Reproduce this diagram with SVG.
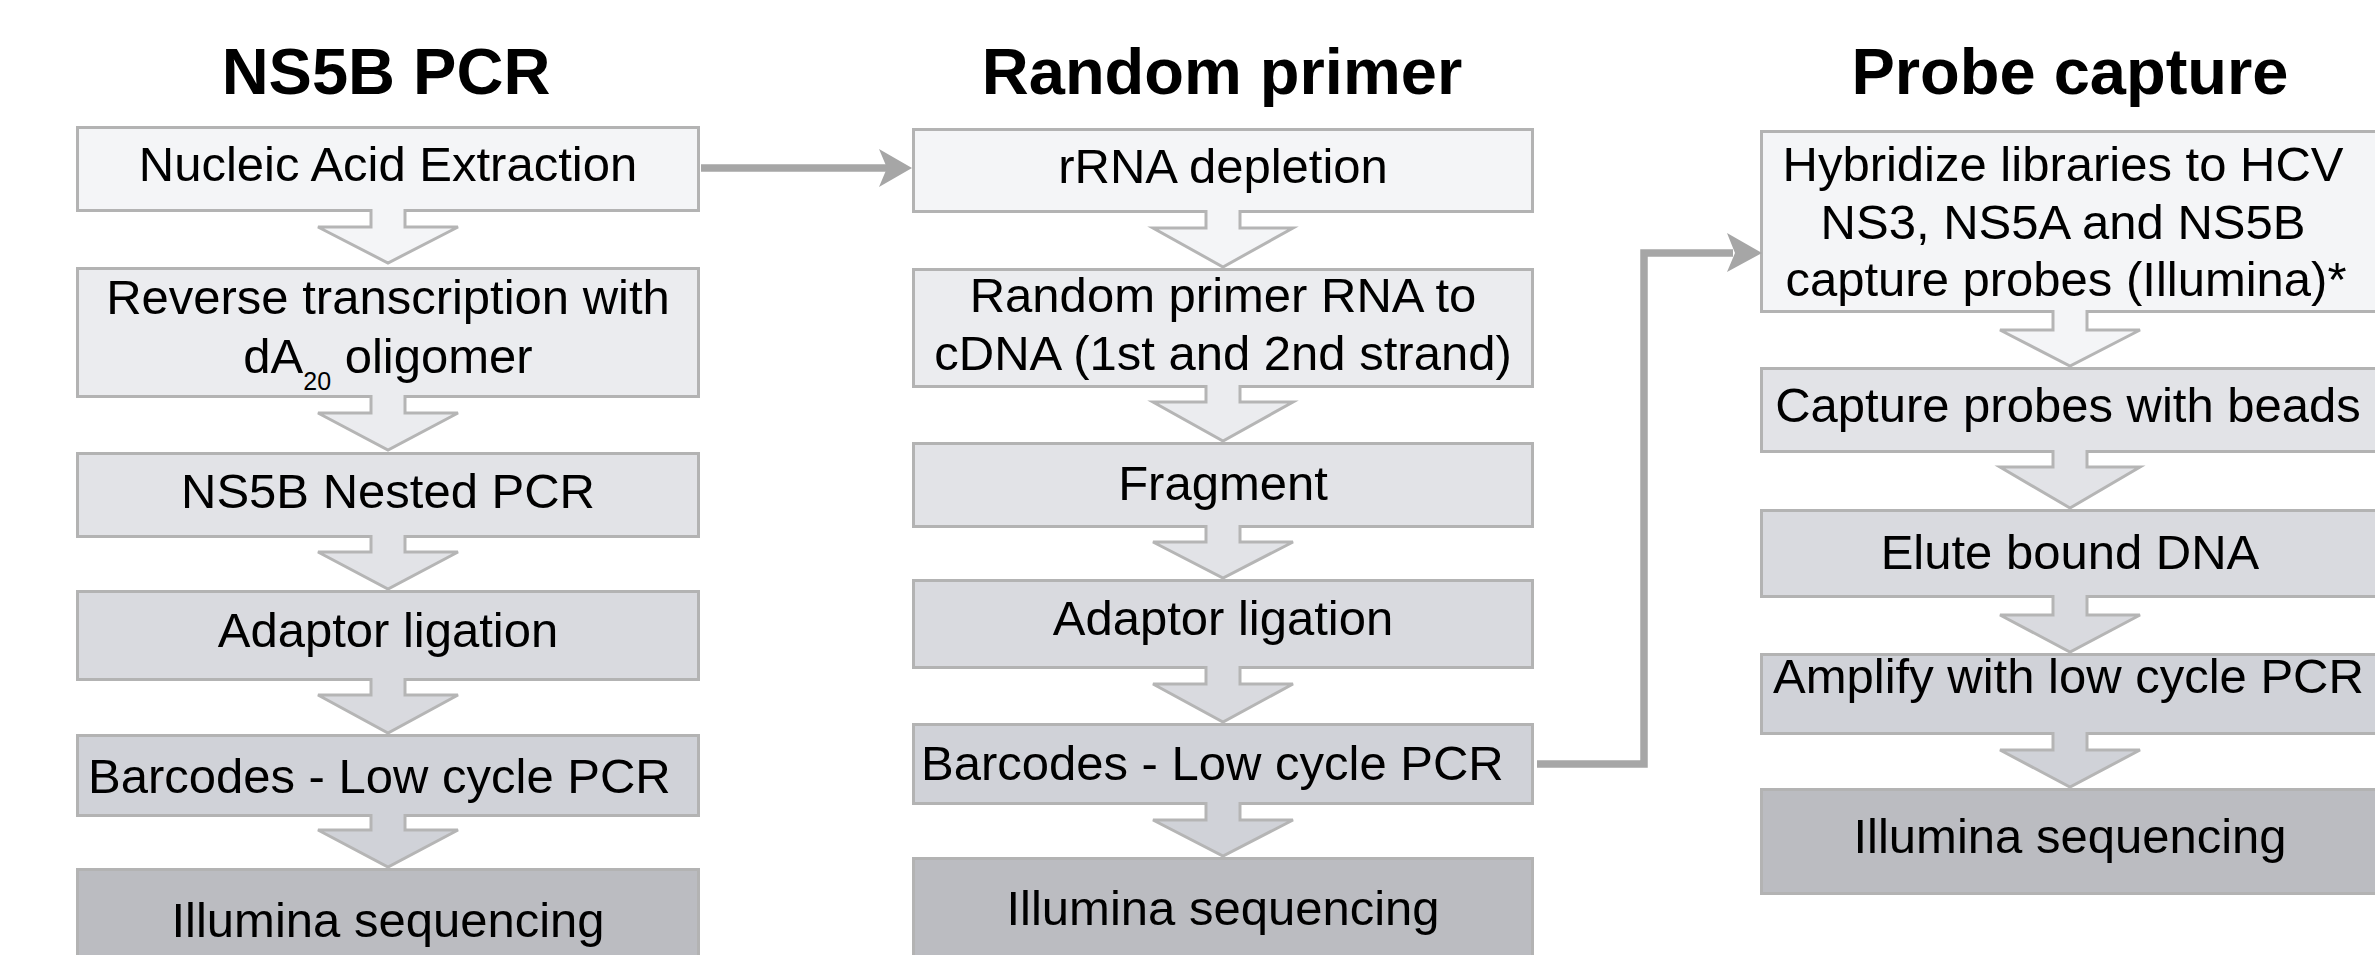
<svg xmlns="http://www.w3.org/2000/svg" width="2375" height="955" viewBox="0 0 2375 955">
<style>
.t{font-family:"Liberation Sans",Arial,Helvetica,sans-serif;font-size:49px;fill:#000;text-anchor:middle}
.h{font-family:"Liberation Sans",Arial,Helvetica,sans-serif;font-size:65px;font-weight:bold;fill:#000;text-anchor:middle}
.s{text-anchor:start}
.b{stroke:#b3b3b3;stroke-width:3}
.a{stroke:#b5b5b5;stroke-width:3;stroke-linejoin:miter}
.l1{fill:#f4f5f7}.l2{fill:#ebecef}.l3{fill:#e2e3e7}.l4{fill:#d9dadf}.l5{fill:#d0d2d8}.l6{fill:#bbbcc1}
.c{fill:none;stroke:#a6a6a6;stroke-width:7.5}
.ch{fill:#a6a6a6}
</style>
<rect width="2375" height="955" fill="#ffffff"/>
<g id="titles">
<text class="h" x="386" y="94">NS5B PCR</text>
<text class="h" x="1222" y="94">Random primer</text>
<text class="h" x="2070" y="94">Probe capture</text>
</g>
<g id="col1">
<g id="n1-1"><rect class="b l1" x="77.5" y="127.5" width="621" height="83"/><text class="t" x="388" y="181">Nucleic Acid Extraction</text></g>
<g id="n1-2"><rect class="b l2" x="77.5" y="268.5" width="621" height="128"/><text class="t" x="388" y="314">Reverse transcription with</text><text class="t" x="388" y="373">dA<tspan font-size="25" dy="17">20</tspan><tspan dy="-17"> oligomer</tspan></text></g>
<g id="n1-3"><rect class="b l3" x="77.5" y="453.5" width="621" height="83"/><text class="t" x="388" y="508">NS5B Nested PCR</text></g>
<g id="n1-4"><rect class="b l4" x="77.5" y="591.5" width="621" height="88"/><text class="t" x="388" y="647">Adaptor ligation</text></g>
<g id="n1-5"><rect class="b l5" x="77.5" y="735.5" width="621" height="80"/><text class="t s" x="88" y="793">Barcodes - Low cycle PCR</text></g>
<g id="n1-6"><rect class="b l6" x="77.5" y="869.5" width="621" height="100"/><text class="t" x="388" y="937">Illumina sequencing</text></g>
</g>
<g id="col2">
<g id="n2-1"><rect class="b l1" x="913.5" y="129.5" width="619" height="82"/><text class="t" x="1223" y="183">rRNA depletion</text></g>
<g id="n2-2"><rect class="b l2" x="913.5" y="269.5" width="619" height="117"/><text class="t" x="1223" y="312">Random primer RNA to</text><text class="t" x="1223" y="370">cDNA (1st and 2nd strand)</text></g>
<g id="n2-3"><rect class="b l3" x="913.5" y="443.5" width="619" height="83"/><text class="t" x="1223" y="500">Fragment</text></g>
<g id="n2-4"><rect class="b l4" x="913.5" y="580.5" width="619" height="87"/><text class="t" x="1223" y="635">Adaptor ligation</text></g>
<g id="n2-5"><rect class="b l5" x="913.5" y="724.5" width="619" height="79"/><text class="t s" x="921" y="780">Barcodes - Low cycle PCR</text></g>
<g id="n2-6"><rect class="b l6" x="913.5" y="858.5" width="619" height="110"/><text class="t" x="1223" y="925">Illumina sequencing</text></g>
</g>
<g id="col3">
<g id="n3-1"><rect class="b l1" x="1761.5" y="131.5" width="621" height="180"/><text class="t" x="2063" y="181">Hybridize libraries to HCV</text><text class="t" x="2063" y="239">NS3, NS5A and NS5B</text><text class="t" x="2066" y="296">capture probes (Illumina)*</text></g>
<g id="n3-2"><rect class="b l3" x="1761.5" y="368.5" width="621" height="83"/><text class="t" x="2068" y="422">Capture probes with beads</text></g>
<g id="n3-3"><rect class="b l4" x="1761.5" y="510.5" width="621" height="86"/><text class="t" x="2070" y="569">Elute bound DNA</text></g>
<g id="n3-4"><rect class="b l5" x="1761.5" y="654.5" width="621" height="79"/><text class="t s" x="1773" y="693">Amplify with low cycle PCR</text></g>
<g id="n3-5"><rect class="b l6" x="1761.5" y="789.5" width="621" height="104"/><text class="t" x="2070" y="853">Illumina sequencing</text></g>
</g>
<g id="connectors">
<path class="a l1" d="M371 209V227H318L388 263L458 227H405V209"/>
<path class="a l2" d="M371 395V413H318L388 450L458 413H405V395"/>
<path class="a l3" d="M371 535V552H318L388 589L458 552H405V535"/>
<path class="a l4" d="M371 678V695H318L388 733L458 695H405V678"/>
<path class="a l5" d="M371 814V830H318L388 867L458 830H405V814"/>
<path class="a l1" d="M1206 210V228H1153L1223 267L1293 228H1240V210"/>
<path class="a l2" d="M1206 385V402H1153L1223 441L1293 402H1240V385"/>
<path class="a l3" d="M1206 525V542H1153L1223 578L1293 542H1240V525"/>
<path class="a l4" d="M1206 666V684H1153L1223 722L1293 684H1240V666"/>
<path class="a l5" d="M1206 802V820H1153L1223 856L1293 820H1240V802"/>
<path class="a l1" d="M2053 310V330H2000L2070 366L2140 330H2087V310"/>
<path class="a l3" d="M2053 450V467H2000L2070 508L2140 467H2087V450"/>
<path class="a l4" d="M2053 595V615H2000L2070 652L2140 615H2087V595"/>
<path class="a l5" d="M2053 732V750H2000L2070 787L2140 750H2087V732"/>
<path class="c" d="M701 168H887"/>
<polygon class="ch" points="912,168 879,149 887,168 879,187"/>
<path class="c" d="M1537 764H1644V253H1733"/>
<polygon class="ch" points="1762,253 1727,233 1735,253 1727,272"/>
</g>
</svg>
